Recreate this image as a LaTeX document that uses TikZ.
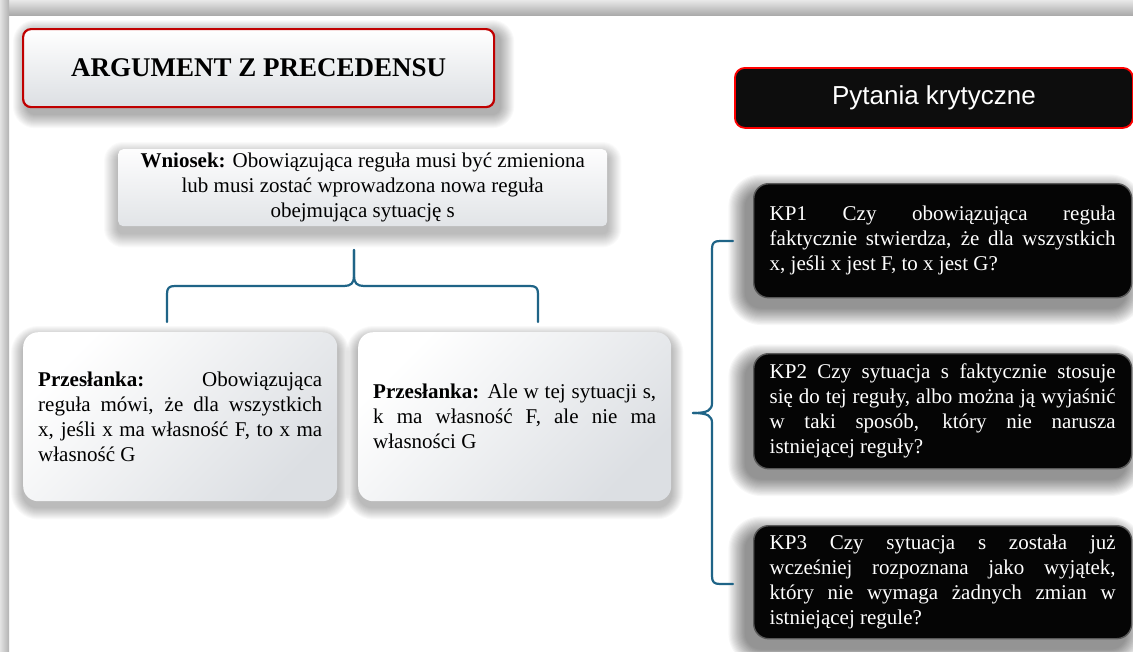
\documentclass[tikz,border=0pt]{standalone}
\usepackage{fontspec}
\setmainfont{Liberation Serif}
\newfontfamily\sansf{Liberation Sans}
\usetikzlibrary{calc}
\definecolor{bracec}{HTML}{1F6487}
\definecolor{titred}{HTML}{C00000}
\definecolor{pytred}{HTML}{FF0000}
\definecolor{boxgray}{HTML}{DCDFE3}
\definecolor{kpblack}{HTML}{050505}
\definecolor{pytblack}{HTML}{0D0D0D}
\hbadness=10000
\pgfdeclarelayer{bgl}
\pgfdeclarelayer{shl}
\pgfsetlayers{bgl,shl,main}
\tikzset{
  bodyfont/.style={font=\fontsize{21}{25}\selectfont},
  titlebox/.style={draw=titred, line width=2.2pt, rounded corners=8pt, top color=white, bottom color=boxgray, inner sep=0pt, font=\fontsize{27}{30}\selectfont\bfseries},
  pytbox/.style={fill=pytblack, draw=pytred, line width=1.8pt, rounded corners=10pt, text=white, inner sep=0pt, font=\sansf\fontsize{26}{30}\selectfont},
  wnbox/.style={rounded corners=5pt, top color=white!95!boxgray, bottom color=boxgray!85, inner sep=0pt, bodyfont},
  premisebox/.style={rounded corners=15pt, shading=axis, top color=white, bottom color=boxgray, shading angle=45, inner sep=0pt, bodyfont},
  kpbox/.style={rounded corners=15pt, fill=kpblack, draw=black!65, line width=1.4pt, text=white, inner sep=0pt, bodyfont},
  bracestyle/.style={draw=bracec, line width=2.2pt, line cap=round, line join=round}
}
\newcommand{\jtext}[2]{\parbox{#1}{\tolerance=10000 #2}}
% soft shadow: node, dx, dy, steps, step size, opacity, base radius
\newcommand{\boxshadow}[7]{%
  \foreach \k in {1,...,#4} {
    \fill[black, opacity=#6, rounded corners={(#7+\k*#5)*1pt}]
      ($(#1.north west)+(#2-\k*#5,#3-\k*#5)$) rectangle ($(#1.south east)+(#2+\k*#5,#3+\k*#5)$);
  }}
\begin{document}
\begin{tikzpicture}[x=1pt,y=-1pt]
\useasboundingbox (0,0) rectangle (1133,651);
% slide background
\begin{pgfonlayer}{bgl}
\fill[white] (0,0) rectangle (1133,651);
\shade[top color=black!9, bottom color=black!33] (0,0) rectangle (1133,15);
\shade[left color=black!11, right color=black!30] (0,0) rectangle (9,651);
\end{pgfonlayer}

% title and heading
\node[titlebox, minimum width=471pt, minimum height=78pt, anchor=north west] (title) at (22,28) {ARGUMENT Z PRECEDENSU};
\node[pytbox, minimum width=398pt, minimum height=60pt, anchor=north west] (pyt) at (734,67) {Pytania krytyczne};

% conclusion
\node[wnbox, minimum width=489pt, minimum height=77pt, anchor=north west] (wn) at (118,149)
  {\parbox{480pt}{\centering \textbf{Wniosek:} Obowiązująca reguła musi być zmieniona\\ lub musi zostać wprowadzona nowa reguła\\ obejmująca sytuację s}};

% premises
\node[premisebox, minimum width=314pt, minimum height=169pt, anchor=north west] (p1) at (23,332)
  {\jtext{284pt}{\textbf{Przesłanka:} Obowiązująca\linebreak reguła mówi, że dla wszystkich\linebreak x, jeśli x ma własność F, to x ma\linebreak własność G}};
\node[premisebox, minimum width=313pt, minimum height=169pt, anchor=north west] (p2) at (358,332)
  {\jtext{283pt}{\textbf{Przesłanka:} Ale w tej sytuacji s,\linebreak k ma własność F, ale nie ma\linebreak własności G}};

% critical questions
\node[kpbox, minimum width=378pt, minimum height=114pt, anchor=north west] (kp1) at (753,183)
  {\jtext{346pt}{KP1 Czy obowiązująca reguła\linebreak faktycznie stwierdza, że dla wszystkich\linebreak x, jeśli x jest F, to x jest G?}};
\node[kpbox, minimum width=378pt, minimum height=115pt, anchor=north west] (kp2) at (753,353)
  {\jtext{346pt}{KP2 Czy sytuacja s faktycznie stosuje\linebreak się do tej reguły, albo można ją wyjaśnić\linebreak w taki sposób, który nie narusza\linebreak istniejącej reguły?}};
\node[kpbox, minimum width=378pt, minimum height=113pt, anchor=north west] (kp3) at (753,525)
  {\jtext{346pt}{KP3 Czy sytuacja s została już\linebreak wcześniej rozpoznana jako wyjątek,\linebreak który nie wymaga żadnych zmian w\linebreak istniejącej regule?}};

% soft shadows
\begin{pgfonlayer}{shl}
\boxshadow{title}{5}{6}{14}{1.0}{0.022}{8}
\boxshadow{wn}{0}{7}{14}{1.0}{0.02}{5}
\boxshadow{p1}{0}{6}{12}{1.0}{0.025}{15}
\boxshadow{p2}{0}{6}{12}{1.0}{0.025}{15}
\boxshadow{kp1}{-7}{9}{16}{1.1}{0.03}{15}
\boxshadow{kp2}{-7}{9}{16}{1.1}{0.03}{15}
\boxshadow{kp3}{-7}{9}{16}{1.1}{0.03}{15}
\end{pgfonlayer}

% brace under the conclusion
\coordinate (btip) at (354,250);
\coordinate (bl) at (167,322);
\coordinate (br) at (538,322);
\draw[bracestyle] (bl) -- (167,294) .. controls (167,288) and (169,286) .. (175,286) -- (344,286) .. controls (351,286) and (354,283) .. (354,276) -- (btip);
\draw[bracestyle] (btip) -- (354,276) .. controls (354,283) and (357,286) .. (364,286) -- (530,286) .. controls (536,286) and (538,288) .. (538,294) -- (br);

% brace in front of the questions
\coordinate (rt) at (733,241);
\coordinate (rb) at (733,584);
\coordinate (rtip) at (693,413);
\draw[bracestyle] (rt) -- (720,241) .. controls (714,241) and (712,243) .. (712,249) -- (712,403) .. controls (712,410) and (708,413) .. (rtip);
\draw[bracestyle] (rtip) .. controls (708,413) and (712,416) .. (712,423) -- (712,576) .. controls (712,582) and (714,584) .. (720,584) -- (rb);
\end{tikzpicture}
\end{document}
